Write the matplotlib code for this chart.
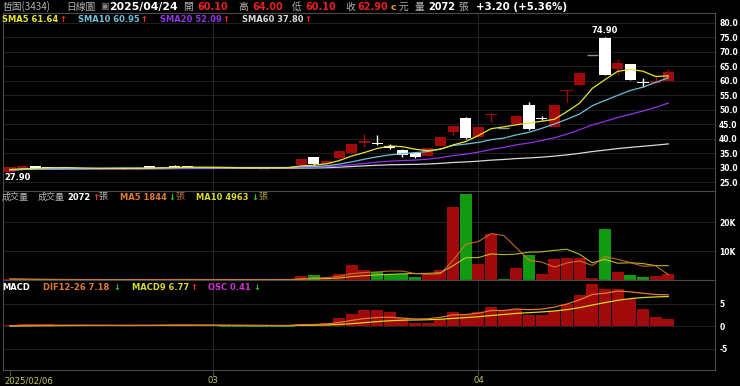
import numpy as np
import pandas as pd
import matplotlib
matplotlib.use("Agg")
import matplotlib.pyplot as plt
from matplotlib import transforms

plt.rcParams['font.family'] = ['DejaVu Sans', 'Noto Sans CJK TC']

# ---- data ----
# closes before the first visible day, only used to warm up the moving averages
warmup_close = [29.0, 29.3, 29.1, 29.2, 29.4, 29.0, 29.2]

open_ = [28.7, 30.1, 30.45, 30.1, 29.9, 29.8, 29.9, 29.8, 29.7, 29.8,
         29.7, 30.4, 30.1, 30.7, 30.4, 30.2, 30.0, 30.1, 30.0, 29.9,
         30.0, 30.0, 30.1,
         31.0, 33.5, 31.3, 33.3, 35.2, 38.7, 38.3, 37.4, 35.9, 35.0,
         34.1, 37.6, 42.5, 47.2, 40.7, 48.1, 43.55, 45.1, 51.6, 47.2,
         44.2, 56.6, 58.6, 68.75, 74.5, 64.2, 65.6, 59.6, 59.3, 60.1]
high = [30.5, 30.8, 30.5, 30.2, 30.1, 30.0, 30.0, 29.9, 29.9, 29.9,
        30.6, 30.5, 30.5, 30.9, 30.5, 30.3, 30.2, 30.2, 30.1, 30.1,
        30.1, 30.2, 30.3,
        33.0, 33.6, 32.5, 35.7, 38.2, 41.7, 41.3, 38.3, 36.3, 35.3,
        36.8, 40.5, 44.5, 47.6, 44.1, 48.35, 43.55, 47.9, 52.8, 47.7,
        51.7, 56.85, 62.5, 68.75, 74.9, 67.5, 65.7, 60.9, 61.5, 64.0]
low = [27.9, 30.0, 30.0, 29.8, 29.7, 29.6, 29.7, 29.6, 29.5, 29.6,
       29.7, 30.0, 30.0, 30.3, 30.1, 29.9, 29.9, 29.9, 29.8, 29.8,
       29.9, 29.9, 30.0,
       30.9, 31.0, 31.2, 32.8, 35.1, 37.2, 38.0, 36.6, 33.8, 33.5,
       34.0, 37.5, 41.3, 40.0, 40.6, 45.9, 43.55, 45.0, 43.1, 46.3,
       44.1, 52.8, 58.5, 68.75, 61.9, 62.0, 60.1, 57.7, 59.1, 60.1]
close = [30.2, 30.4, 30.1, 29.9, 29.8, 29.9, 29.8, 29.7, 29.8, 29.7,
         30.0, 30.1, 30.3, 30.4, 30.2, 30.0, 30.1, 30.0, 29.9, 30.0,
         30.0, 30.1, 30.2,
         32.9, 31.2, 32.4, 35.6, 38.1, 39.0, 38.1, 36.8, 34.3, 33.7,
         36.6, 40.4, 44.3, 40.2, 44.0, 48.35, 43.55, 47.9, 43.3, 47.0,
         51.7, 56.85, 62.5, 68.75, 61.9, 66.0, 60.3, 59.3, 59.7, 62.9]
# volume in lots (張)
volume = [350, 200, 150, 120, 100, 110, 90, 80, 100, 90,
          250, 180, 200, 220, 150, 120, 130, 110, 100, 120,
          110, 150, 300,
          1300, 1800, 600, 2200, 5100, 3300, 2800, 2100, 2100, 900,
          2100, 3600, 25400, 29800, 5600, 15900, 300, 4100, 8500, 2200,
          7200, 7500, 7600, 600, 17500, 2600, 1900, 1200, 1450, 2072]

holidays = ['2025-02-28', '2025-04-03', '2025-04-04']
dates = pd.bdate_range('2025-02-06', '2025-04-24')
dates = dates[~dates.isin(pd.to_datetime(holidays))]

price_ticks = np.arange(25, 81, 5)
vol_ticks = [10000, 20000]
vol_tick_labels = ['10K', '20K']
macd_ticks = [5, 0, -5]

# ---- indicators ----
n = len(close)
xs = np.arange(n)
s_all = pd.Series(warmup_close + close)
w = len(warmup_close)
sma5 = s_all.rolling(5, min_periods=1).mean().values[w:]
sma10 = s_all.rolling(10, min_periods=1).mean().values[w:]
sma20 = s_all.rolling(20, min_periods=1).mean().values[w:]
sma60 = s_all.rolling(60, min_periods=1).mean().values[w:]

vol = pd.Series(volume)
vma5 = vol.rolling(5, min_periods=1).mean().values
vma10 = vol.rolling(10, min_periods=1).mean().values

ema12 = s_all.ewm(span=12, adjust=False).mean()
ema26 = s_all.ewm(span=26, adjust=False).mean()
dif_all = ema12 - ema26
macd_all = dif_all.ewm(span=9, adjust=False).mean()
dif = dif_all.values[w:]
macd9 = macd_all.values[w:]
osc = dif - macd9

# ---- colours ----
RED = '#a00a0a'
GREEN = '#129a12'
GRID = '#262626'
EDGE = '#4a4a4a'
C5 = '#e6e632'
C10 = '#6cc0dc'
C20 = '#9232e6'
C60 = '#d8d8d8'
ORANGE = '#e07a30'
YEL = '#d8d826'

fig = plt.figure(figsize=(7.4, 3.86), dpi=100, facecolor='black')
W, H = 740.0, 386.0
L, R = 3, 715
rect3 = [L / W, 1 - 370 / H, (R - L) / W, (370 - 280) / H]
ax1 = fig.add_axes([L / W, 1 - 191 / H, (R - L) / W, (191 - 13) / H])
ax2 = fig.add_axes([L / W, 1 - 280 / H, (R - L) / W, (280 - 191) / H])
# histogram sits on its own (hidden) scale underneath the MACD lines
ax3b = fig.add_axes(rect3, zorder=1)
ax3 = fig.add_axes(rect3, zorder=2)

x0 = -0.553
x1 = 55.69
month_idx = [0] + [i for i in range(1, n) if dates[i].month != dates[i - 1].month]

for ax in (ax1, ax2, ax3):
    ax.set_facecolor('black')
    ax.set_xlim(x0, x1)
    for sp in ax.spines.values():
        sp.set_color(EDGE)
        sp.set_linewidth(0.8)
    ax.yaxis.tick_right()
    ax.tick_params(axis='y', length=0, pad=3, labelcolor='white', labelsize=5.5)
    ax.tick_params(axis='x', length=0, labelbottom=False)

for ax in (ax1, ax2, ax3b):
    for m in month_idx[1:]:
        ax.axvline(m, color=GRID, lw=0.7, zorder=0)

# ---- price panel ----
ax1.set_ylim(22.0, 83.3)
ax1.set_yticks(price_ticks)
ax1.set_yticklabels(['%.1f' % t for t in price_ticks], fontweight='bold')
for t in price_ticks:
    ax1.axhline(t, color=GRID, lw=0.6, zorder=0)

o = np.array(open_)
c = np.array(close)
hi = np.array(high)
lo = np.array(low)
up = c > o
body_col = np.where(up, RED, 'white')
flat = np.abs(c - o) < 0.05
col_list = [('#909090' if f else bc) for f, bc in zip(flat, body_col)]
ax1.vlines(xs, lo, hi, colors=col_list, lw=1.0, zorder=2)
ax1.bar(xs[~flat], np.abs(c - o)[~flat] + 0.12, bottom=np.minimum(o, c)[~flat] - 0.06,
        width=0.88, color=body_col[~flat], zorder=3, linewidth=0)
ax1.hlines(c[flat], xs[flat] - 0.44, xs[flat] + 0.44, colors='#909090', lw=1.0, zorder=3)

ax1.plot(xs, sma60, color=C60, lw=0.9, zorder=4)
ax1.plot(xs, sma20, color=C20, lw=0.9, zorder=4)
ax1.plot(xs, sma10, color=C10, lw=0.9, zorder=4)
ax1.plot(xs, sma5, color=C5, lw=0.9, zorder=4)

i_hi = int(np.argmax(hi))
i_lo = int(np.argmin(lo))
ax1.annotate('%.2f' % hi[i_hi], (i_hi, hi[i_hi]), xytext=(0, 7), textcoords='offset pixels',
             ha='center', va='center', color='white', fontsize=6, fontweight='bold')
ax1.annotate('%.2f' % lo[i_lo], (i_lo - 0.47, lo[i_lo]), xytext=(0, -4), textcoords='offset pixels',
             ha='left', va='center', color='white', fontsize=6, fontweight='bold')

# ---- volume panel ----
vcol = [RED] + [RED if close[i] >= close[i - 1] else GREEN for i in range(1, n)]
ax2.set_ylim(0, 30800)
ax2.set_yticks(vol_ticks)
ax2.set_yticklabels(vol_tick_labels, fontweight='bold')
for t in vol_ticks:
    ax2.axhline(t, color=GRID, lw=0.6, zorder=0)
ax2.bar(xs, volume, width=0.95, color=vcol, linewidth=0, zorder=2)
ax2.plot(xs, vma10, color=YEL, lw=0.8, zorder=3, alpha=0.85)
ax2.plot(xs, vma5, color=ORANGE, lw=0.8, zorder=3, alpha=0.85)

# ---- MACD panel ----
ax3b.set_facecolor('black')
ax3b.set_xlim(x0, x1)
ax3b.set_ylim(-9.7 / 4, 10.3 / 4)
ax3b.set_xticks([])
ax3b.set_yticks([])
for t in macd_ticks:
    ax3b.axhline(t / 4, color=GRID, lw=0.6, zorder=0)
ax3b.bar(xs, osc, width=0.95, color=np.where(osc >= 0, RED, GREEN), linewidth=0, zorder=1)

ax3.patch.set_visible(False)
ax3.set_ylim(-9.7, 10.3)
ax3.set_yticks(macd_ticks)
ax3.set_yticklabels([str(t) for t in macd_ticks], fontweight='bold')
ax3.plot(xs, macd9, color=YEL, lw=0.9, zorder=3)
ax3.plot(xs, dif, color=ORANGE, lw=0.9, zorder=3)

# x labels
tr = transforms.blended_transform_factory(ax3.transData, ax3.transAxes)
for k, m in enumerate(month_idx):
    ax3.plot([m, m], [0, -0.06], transform=tr, color=EDGE, lw=0.8, clip_on=False)
    if k == 0:
        ax3.text(m - 0.45, -0.12, dates[m].strftime('%Y/%m/%d'), transform=tr, ha='left', va='center',
                 color='#c8c85a', fontsize=6.1)
    else:
        ax3.text(m, -0.12, dates[m].strftime('%m'), transform=tr, ha='center', va='center',
                 color='#c8c85a', fontsize=6.1)

# ---- header / legends ----
CJK = ['Noto Sans CJK TC', 'DejaVu Sans']


def put(x, y, s, color, size=6, bold=True, cjk=False):
    fig.text(x / W, 1 - y / H, s, color=color, fontsize=size, ha='left', va='center',
             fontweight='bold' if bold else 'normal', family=CJK if cjk else ['DejaVu Sans'])


HDR = '#e82020'
G = '#b4b4b4'
put(2, 7, '哲固(3434)', G, 7, False, True)
put(66, 7, '日線圖', G, 7, False, True)
put(100, 7, '▣', '#8a8a8a', 6.5, False)
put(109, 7, '2025/04/24', 'white', 7.8)
put(183, 7, '開', G, 7, False, True)
put(197, 7, '60.10', HDR, 7.0)
put(238, 7, '高', G, 7, False, True)
put(252, 7, '64.00', HDR, 7.0)
put(292, 7, '低', G, 7, False, True)
put(305, 7, '60.10', HDR, 7.0)
put(345, 7, '收', G, 7, False, True)
put(357, 7, '62.90', HDR, 7.0)
put(391, 7, 'c', '#d8a040', 6.8)
put(399, 7, '元', G, 7, False, True)
put(415, 7, '量', G, 7, False, True)
put(428, 7, '2072', 'white', 7)
put(458, 7, '張', G, 7, False, True)
put(476, 7, '+3.20 (+5.36%)', 'white', 7.4)

UP = '#ff2a2a'
DN = '#22cc22'
put(2, 19, 'SMA5 61.64', C5)
put(59, 19, '↑', UP)
put(78, 19, 'SMA10 60.95', C10)
put(140, 19, '↑', UP)
put(160, 19, 'SMA20 52.09', C20)
put(222, 19, '↑', UP)
put(242, 19, 'SMA60 37.80', C60)
put(304, 19, '↑', UP)

put(2, 197, '成交量', G, 6.5, False, True)
put(38, 197, '成交量', G, 6.5, False, True)
put(67, 197, '2072', 'white')
put(92, 197, '↑', UP)
put(98, 197, '張', G, 6.5, False, True)
put(120, 197, 'MA5 1844', ORANGE)
put(168, 197, '↓', DN)
put(175, 197, '張', '#b07040', 6.5, False, True)
put(196, 197, 'MA10 4963', YEL)
put(251, 197, '↓', DN)
put(258, 197, '張', '#a0a040', 6.5, False, True)

put(2, 287, 'MACD', 'white')
put(43, 287, 'DIF12-26 7.18', ORANGE)
put(113, 287, '↓', DN)
put(132, 287, 'MACD9 6.77', YEL)
put(190, 287, '↑', UP)
put(208, 287, 'OSC 0.41', '#d030d0')
put(253, 287, '↓', DN)

fig.savefig('out.png', dpi=100, facecolor='black')
